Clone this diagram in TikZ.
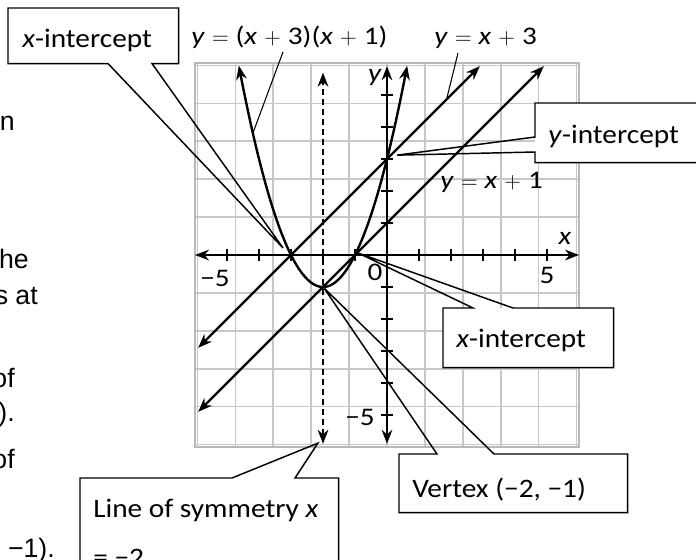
\documentclass[tikz,border=0pt]{standalone}
\usepackage{fontspec}
\setmainfont{Carlito}[FakeStretch=1.1]
\newfontfamily\arialfont{Liberation Sans}
\newfontfamily\graphfont{Carlito}[FakeStretch=1.15]
\usetikzlibrary{arrows.meta,calc}

\begin{document}
\begin{tikzpicture}[x=0.75pt,y=-0.75pt,font=\fontsize{20}{24}\selectfont,
  cbox/.style={fill=white,inner sep=0pt,anchor=north west},
  ctext/.style={inner sep=0pt,anchor=base west},
  cline/.style={line width=1.1pt,line join=miter},
  curve/.style={line width=1.8pt,{Stealth[length=10.5pt,width=8pt]}-{Stealth[length=10.5pt,width=8pt]}},
  lead/.style={line width=0.8pt},
  glbl/.style={font=\graphfont\fontsize{19}{22}\selectfont,inner sep=0pt,anchor=base west},
  body/.style={font=\arialfont\fontsize{20}{24}\selectfont,inner sep=0pt,anchor=base east}]
\def\px{0.75pt}
\useasboundingbox (0,0) rectangle (696,560);
\clip (0,0) rectangle (696,560);

% text running in from the page on the left
\node[body] (b1) at (15,130) {n};
\node[body] (b2) at (29,268) {he};
\node[body] (b3) at (38,304) {s at};
\node[body] (b4) at (15,387) {of};
\node[body] (b5) at (15,421) {).};
\node[body] (b6) at (15,468) {of};
\node[body] (b7) at (55,557) {−1).};

% graph: origin at (387,255) px, 32 px per unit
\begin{scope}[shift={(387,255)},x=24pt,y=24pt]
\draw[black!22,line width=1.1pt] (-6,-6) grid (6,6);
\draw[black!28,line width=1.8pt] (-6,-6) rectangle (6,6);
\foreach \t in {-5,...,-1,1,2,...,5} {
  \draw[line width=1pt] (\t,-0.18) -- (\t,0.18);
  \draw[line width=1pt] (-0.18,\t) -- (0.18,\t);
}
\draw[curve,line width=1.3pt] (-6,0) -- (6,0);
\draw[curve,line width=1.3pt] (0,-5.9) -- (0,5.9);
\draw[curve,dash pattern=on 4.5pt off 3pt] (-2,-5.9) -- (-2,5.7);
\draw[curve,domain=-4.63:0.63,samples=80] plot (\x,{(\x+3)*(\x+1)});
\draw[curve] (-5.9,-2.9) -- (2.9,5.9);
\draw[curve] (-5.9,-4.9) -- (4.9,5.9);
\coordinate (onpar) at (-4.19,3.81);
\coordinate (online) at (1.87,4.9);
\coordinate (tipxa) at (-3.25,0.22);
\coordinate (tipya) at (0.31,3.12);
\coordinate (tipxb) at (-0.9,0.06);
\coordinate (tipvx) at (-1.97,-1.03);
\coordinate (tipls) at (-2.16,-5.88);
\end{scope}

% graph labels
\node[glbl] (eqpar) at (191,45) {\textit{y}\;$=$\;(\textit{x}\;$+$\;3)(\textit{x}\;$+$\;1)};
\node[glbl] (eqthree) at (434,45) {\textit{y}\;$=$\;\textit{x}\;$+$\;3};
\node[glbl] (eqone) at (440,188) {\textit{y}\;$=$\;\textit{x}\;$+$\;1};
\draw[lead] ($(eqpar.base west)+(92,7)$) -- (onpar);
\draw[lead] ($(eqthree.base west)+(24,8)$) -- (online);
\node[glbl,anchor=center] (xlab) at (565,238) {\textit{x}};
\node[glbl,anchor=center] (ylab) at (375,77) {\textit{y}};
\node[glbl,anchor=center] (zero) at (375,272) {0};
\node[glbl,anchor=center] (five) at (547,275) {5};
\node[glbl,anchor=center] (mfive) at (215,278) {−5};
\node[glbl,anchor=east] (mfivey) at (375,417) {−5};

% callouts
\node[cbox,minimum width=170*\px,minimum height=55*\px] (xabox) at (8,8) {};
\draw[cline] ($(xabox.south west)+(100,0)$) -- (xabox.south west) -- (xabox.north west)
  -- (xabox.north east) -- (xabox.south east) -- ($(xabox.south west)+(144,0)$) -- (tipxa) -- cycle;
\node[ctext] (xa) at (22,48) {\textit{x}-intercept};

\node[cbox,minimum width=170*\px,minimum height=59*\px] (yabox) at (535,103) {};
\draw[cline] ($(yabox.north west)+(0,34)$) -- (yabox.north west) -- (yabox.north east)
  -- (yabox.south east) -- (yabox.south west) -- ($(yabox.north west)+(0,49)$) -- (tipya) -- cycle;
\node[ctext] (ya) at (548,143) {\textit{y}-intercept};

\node[cbox,minimum width=170*\px,minimum height=59*\px] (xbbox) at (443,308) {};
\draw[cline] ($(xbbox.north west)+(30,0)$) -- (xbbox.north west) -- (xbbox.south west)
  -- (xbbox.south east) -- (xbbox.north east) -- ($(xbbox.north west)+(70,0)$) -- (tipxb) -- cycle;
\node[ctext] (xb) at (456,347) {\textit{x}-intercept};

\node[cbox,minimum width=228*\px,minimum height=58*\px] (vxbox) at (399,454) {};
\draw[cline] ($(vxbox.north west)+(38,0)$) -- (vxbox.north west) -- (vxbox.south west)
  -- (vxbox.south east) -- (vxbox.north east) -- ($(vxbox.north west)+(95,0)$) -- (tipvx) -- cycle;
\node[ctext] (vx) at (412,497) {Vertex (−2, −1)};

\node[cbox,minimum width=258*\px,minimum height=120*\px] (lsbox) at (80,478) {};
\draw[cline] ($(lsbox.north west)+(152,0)$) -- (lsbox.north west) -- (lsbox.south west)
  -- (lsbox.south east) -- (lsbox.north east) -- ($(lsbox.north west)+(215,0)$) -- (tipls) -- cycle;
\node[ctext] (ls) at (93,517) {Line of symmetry \textit{x}};
\node[ctext] (lstwo) at (93,566) {= −2};
\end{tikzpicture}
\end{document}
